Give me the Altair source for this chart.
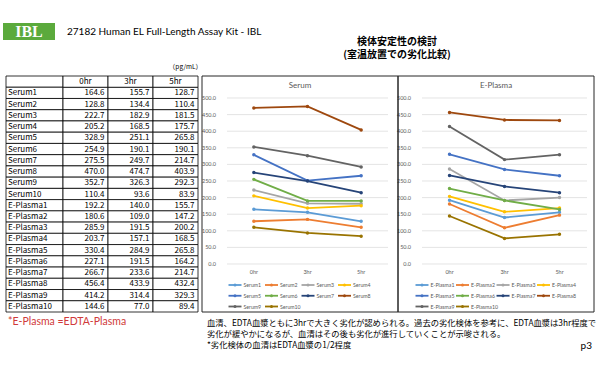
import altair as alt
import pandas as pd

# ---------------- data ----------------
times = ["0hr", "3hr", "5hr"]

serum_names = ["Serum1", "Serum2", "Serum3", "Serum4", "Serum5",
               "Serum6", "Serum7", "Serum8", "Serum9", "Serum10"]
serum_0hr = [164.6, 128.8, 222.7, 205.2, 328.9, 254.9, 275.5, 470.0, 352.7, 110.4]
serum_3hr = [155.7, 134.4, 182.9, 168.5, 251.1, 190.1, 249.7, 474.7, 326.3, 93.6]
serum_5hr = [128.7, 110.4, 181.5, 175.7, 265.8, 190.1, 214.7, 403.9, 292.3, 83.9]

plasma_names = ["E-Plasma1", "E-Plasma2", "E-Plasma3", "E-Plasma4", "E-Plasma5",
                "E-Plasma6", "E-Plasma7", "E-Plasma8", "E-Plasma9", "E-Plasma10"]
plasma_0hr = [192.2, 180.6, 285.9, 203.7, 330.4, 227.1, 266.7, 456.4, 414.2, 144.6]
plasma_3hr = [140.0, 109.0, 191.5, 157.1, 284.9, 191.5, 233.6, 433.9, 314.4, 77.0]
plasma_5hr = [155.7, 147.2, 200.2, 168.5, 265.8, 164.2, 214.7, 432.4, 329.3, 89.4]

y_ticks = [0, 50, 100, 150, 200, 250, 300, 350, 400, 450, 500]

series_colors = ["#5B9BD5", "#ED7D31", "#A5A5A5", "#FFC000", "#4472C4",
                 "#70AD47", "#264478", "#9E480E", "#636363", "#997300"]

header_key = "hdr"
LEGEND_COLS = 4

# ---------------- tables built from the arrays ----------------
def long_df(names, cols):
    recs = []
    for i, n in enumerate(names):
        for t, c in zip(times, cols):
            recs.append({"name": n, "time": t, "value": c[i]})
    return pd.DataFrame(recs)

def legend_df(names):
    return pd.DataFrame({"name": names,
                         "lcol": [i % LEGEND_COLS for i in range(len(names))],
                         "lrow": [i // LEGEND_COLS for i in range(len(names))]})

serum_df = long_df(serum_names, [serum_0hr, serum_3hr, serum_5hr])
plasma_df = long_df(plasma_names, [plasma_0hr, plasma_3hr, plasma_5hr])
all_df = pd.concat([serum_df, plasma_df], ignore_index=True)

row_domain = [header_key] + serum_names + plasma_names
rows_df = pd.DataFrame({"row": row_domain,
                        "label": [""] + serum_names + plasma_names})
cells_df = all_df.rename(columns={"name": "row", "time": "col"})
header_df = pd.DataFrame({"row": [header_key] * 3, "col": times})
ticks_df = pd.DataFrame({"tick": y_ticks})
times_df = pd.DataFrame({"time": times})

JP = "Noto Sans CJK JP"
LAT = "Lato"
GRAY = "#595959"

# ---------------- helpers for slide decorations ----------------
def label(txt, x, y, **kw):
    return alt.Chart(pd.DataFrame({"t": [txt]})).mark_text(**kw).encode(
        x=alt.value(x), y=alt.value(y), text="t:N")

def box(x0, x1, y0, y1, **kw):
    return alt.Chart(pd.DataFrame({"t": [0]})).mark_rect(**kw).encode(
        x=alt.value(x0), x2=alt.value(x1), y=alt.value(y0), y2=alt.value(y1))

# ---------------- table ----------------
row_scale = alt.Scale(type="band", domain=row_domain, range=[76, 312],
                      paddingInner=0, paddingOuter=0)
col_scale = alt.Scale(type="band", domain=times, range=[63, 198],
                      paddingInner=0, paddingOuter=0)
Yrow = alt.Y("row:N", scale=row_scale, axis=None)
Xcol = alt.X("col:N", scale=col_scale, axis=None)
TFS = 8

label_cells = alt.Chart(rows_df).mark_rect(fill="white", stroke="black", strokeWidth=0.8).encode(
    x=alt.value(6), x2=alt.value(63), y=Yrow)
value_cells = alt.Chart(pd.concat([cells_df[["row", "col"]], header_df], ignore_index=True)).mark_rect(
    fill="white", stroke="black", strokeWidth=0.8).encode(x=Xcol, y=Yrow)
label_text = alt.Chart(rows_df).mark_text(align="left", baseline="middle", font=JP, fontSize=TFS,
                                          color="black", dy=0.5).encode(
    x=alt.value(8), y=Yrow, text="label:N")
value_text = alt.Chart(cells_df).mark_text(align="right", baseline="middle", font=JP, fontSize=TFS,
                                           color="black", dx=19, dy=0.5).encode(
    x=Xcol, y=Yrow, text=alt.Text("value:Q", format=".1f"))
header_text = alt.Chart(header_df).mark_text(align="center", baseline="middle", font=JP, fontSize=TFS,
                                             color="black", dy=0.5).encode(
    x=Xcol, y=Yrow, text="col:N")
table = alt.layer(label_cells, value_cells, label_text, value_text, header_text)

# ---------------- line panels ----------------
def panel(df, names, x0, x1, label_x, title, title_x):
    xs = alt.Scale(type="point", domain=times, range=[x0, x1], padding=0.5)
    ys = alt.Scale(domain=[0, 500], range=[264, 98], nice=False, zero=True)
    col = alt.Color("name:N", scale=alt.Scale(domain=names, range=series_colors), legend=None)
    grid = alt.Chart(ticks_df).mark_rule(color="#D9D9D9", strokeWidth=0.7).encode(
        y=alt.Y("tick:Q", scale=ys, axis=None), x=alt.value(x0), x2=alt.value(x1))
    ylab = alt.Chart(ticks_df).mark_text(align="right", baseline="middle", fontSize=5.5,
                                         font=LAT, color=GRAY).encode(
        y=alt.Y("tick:Q", scale=ys, axis=None), x=alt.value(label_x),
        text=alt.Text("tick:Q", format=".1f"))
    xlab = alt.Chart(times_df).mark_text(align="center", baseline="middle", fontSize=5.5,
                                         font=LAT, color=GRAY).encode(
        x=alt.X("time:N", scale=xs, axis=None), y=alt.value(272), text="time:N")
    lines = alt.Chart(df).mark_line(strokeWidth=1.8).encode(
        x=alt.X("time:N", scale=xs, axis=None), y=alt.Y("value:Q", scale=ys, axis=None), color=col)
    pts = alt.Chart(df).mark_point(filled=True, size=12, opacity=1).encode(
        x=alt.X("time:N", scale=xs, axis=None), y=alt.Y("value:Q", scale=ys, axis=None), color=col)
    ttl = label(title, title_x, 86, fontSize=8, font=LAT, color=GRAY, align="center", baseline="middle")
    return alt.layer(grid, ylab, xlab, lines, pts, ttl)

def legend(names, leg_x0, leg_step):
    # 4 columns, filled row-wise, drawn with its own grid scales
    col = alt.Color("name:N", scale=alt.Scale(domain=names, range=series_colors), legend=None)
    lx = alt.X("lcol:Q", scale=alt.Scale(domain=[0, 3], range=[leg_x0, leg_x0 + 3 * leg_step]),
               axis=None)
    ly = alt.Y("lrow:Q", scale=alt.Scale(domain=[0, 2], range=[285, 306.5]), axis=None)
    ldf = legend_df(names)
    leg_line = alt.Chart(ldf).mark_point(shape="M-1,0L1,0", size=169, filled=False, strokeWidth=1.8,
                                         opacity=1).encode(x=lx, y=ly, color=col)
    leg_dot = alt.Chart(ldf).mark_point(shape="circle", size=9, filled=True, opacity=1).encode(
        x=lx, y=ly, color=col)
    leg_txt = alt.Chart(ldf).mark_text(align="left", baseline="middle", dx=8.5, fontSize=5.2,
                                       font=LAT, color=GRAY).encode(x=lx, y=ly, text="name:N")
    return alt.layer(leg_line, leg_dot, leg_txt)

serum_panel = panel(serum_df, serum_names, 227, 388, 216, "Serum", 300)
plasma_panel = panel(plasma_df, plasma_names, 422, 587, 411, "E-Plasma", 496)
serum_legend = legend(serum_names, 235, 36.5)
plasma_legend = legend(plasma_names, 422, 40.5)

# ---------------- slide decorations ----------------
logo_box = box(3, 55, 23, 40, fill="#5BAA3C")
logo_txt = label("IBL", 29, 32, font="Liberation Serif", fontWeight="bold", fontSize=16,
                 color="white", align="center", baseline="middle")
kit_title = label("27182 Human EL Full-Length Assay Kit - IBL", 67, 32, font=LAT, fontSize=10,
                  color="black", align="left", baseline="middle")
jp_title1 = label("検体安定性の検討", 397, 41.5, font=JP, fontSize=10, fontWeight="bold",
                  color="black", align="center", baseline="middle")
jp_title2 = label("(室温放置での劣化比較)", 397, 55, font=JP, fontSize=10, fontWeight="bold",
                  color="black", align="center", baseline="middle")
unit_txt = label("（pg/mL）", 202, 67, font=JP, fontSize=6.5, color="black", align="right",
                 baseline="middle")
panel1_box = box(202, 398, 76, 312, fillOpacity=0, stroke="#262626", strokeWidth=1)
panel2_box = box(398, 594, 76, 312, fillOpacity=0, stroke="#262626", strokeWidth=1)
note_txt = label("*E-Plasma =EDTA-Plasma", 8, 322, font=LAT, fontSize=10.5, color="#D03A3A",
                 align="left", baseline="middle")
body1 = label("血清、EDTA血漿ともに3hrで大きく劣化が認められる。過去の劣化検体を参考に、EDTA血漿は3hr程度で",
              207, 324, font=JP, fontSize=8.3, color="black", align="left", baseline="middle")
body2 = label("劣化が緩やかになるが、血清はその後も劣化が進行していくことが示唆される。",
              207, 335, font=JP, fontSize=8.3, color="black", align="left", baseline="middle")
body3 = label("*劣化検体の血清はEDTA血漿の1/2程度", 207, 346, font=JP, fontSize=8.3,
              color="black", align="left", baseline="middle")
page_txt = label("p3", 592, 346, font=LAT, fontSize=10, color="black", align="right",
                 baseline="middle")

chart = alt.layer(
    logo_box, logo_txt, kit_title, jp_title1, jp_title2, unit_txt,
    table, serum_panel, plasma_panel, serum_legend, plasma_legend, panel1_box, panel2_box,
    note_txt, body1, body2, body3, page_txt,
).resolve_scale(
    x="independent", y="independent", color="independent"
).properties(
    width=600, height=375, padding=0, autosize="none", background="white"
).configure_view(stroke=None)

chart.save("out.html", embed_options={"renderer": "svg", "actions": False})
